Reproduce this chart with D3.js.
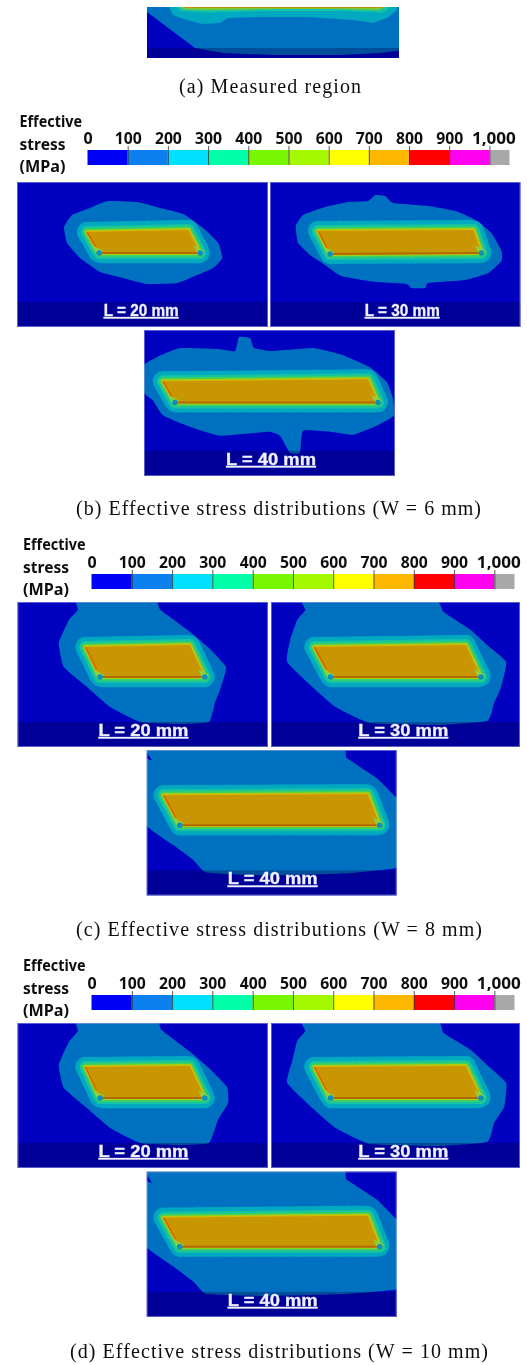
<!DOCTYPE html>
<html><head><meta charset="utf-8">
<script src="https://cdnjs.cloudflare.com/ajax/libs/d3/7.8.5/d3.min.js"></script>
<style>html,body{margin:0;padding:0;background:#fff}svg{display:block}</style></head>
<body><svg id="c" width="527" height="1365"></svg>
<script>
// ---------- legend data ----------
const stressBreaks = [0,100,200,300,400,500,600,700,800,900,1000,1050];
const stressColors = ["#0000f4","#0a80f0","#00e0ff","#00ffa8","#78f800","#a4f800","#ffff00","#ffb800","#ff0000","#ff00f0","#a8a8a8"];
const stressTicks  = [0,100,200,300,400,500,600,700,800,900,1000];
const legendWords  = ["Effective","stress","(MPa)"];
// ---------- contour colours (level bands drawn outward to inward) ----------
const bandColors = ["#00a8c0","#18c4a0","#40d060","#a8d010","#d8b800"];
const bandWidths = [19,12,7.5,4,2];
// ---------- W = 6 mm : 100 MPa contours and yield cores ----------
const w6L20Outer = [[47,45],[55,33],[73,26],[90,19],[120,20],[143,26],[166,32],[186,46],[201,61],[205,76],[196,86],[180,93],[160,101],[130,102],[106,96],[83,90],[63,76],[50,61]];
const w6L20Core  = [[70,50],[171,48],[183,71],[82,71]];
const w6L30Outer = [[26,43],[33,33],[55,25],[78,20],[98,19],[105,13],[115,14],[123,21],[158,24],[185,29],[205,38],[221,51],[231,69],[231,79],[218,91],[195,98],[158,101],[155,106],[141,106],[136,102],[105,100],[71,94],[55,83],[40,73],[28,61],[26,49]];
const w6L30Core  = [[48,49],[203,48],[211,71],[60,72]];
const w6L40Outer = [[0,35],[13,27],[36,18],[76,19],[91,21],[95,7],[106,8],[110,18],[128,21],[169,18],[199,25],[226,37],[243,52],[249,68],[250,85],[233,95],[209,104],[186,101],[159,100],[156,122],[146,122],[136,105],[124,101],[76,105],[43,95],[19,85],[9,70],[0,62]];
const w6L40Core  = [[19,51],[224,49],[234,72],[31,72]];
// ---------- W = 8 mm ----------
const w8L20Outer = [[60,-4],[134,-4],[142,8],[169,28],[189,45],[207,65],[202,85],[196,101],[190,120],[159,122],[122,120],[92,105],[69,85],[46,65],[41,41],[51,18],[60,8]];
const w8L20Core  = [[67.5,45],[171,43],[186,75],[82,75]];
const w8L30Outer = [[34,-4],[159,-4],[171,10],[198,28],[214,43],[233,60],[228,85],[221,101],[214,119],[164,123],[98,121],[64,105],[41,85],[16,60],[19,38],[26,18],[34,8]];
const w8L30Core  = [[43,45],[193,43],[208,75],[59,75]];
const w8L40Outer = [[-4,10],[5,10],[5,-4],[190,-4],[200,8],[230,28],[247,45],[254,53],[254,112],[247,118],[197,123],[117,125],[60,122],[47,110],[27,95],[-4,71]];
const w8L40Core  = [[17,45],[221,44],[233,75],[33,75]];
// ---------- W = 10 mm ----------
const w10L20Outer = [[60,-4],[136,-4],[143,7],[169,27],[189,44],[208,64],[209,80],[199,97],[190,120],[159,122],[122,120],[92,105],[69,85],[46,65],[41,42],[51,19],[60,8]];
const w10L20Core  = [[67.5,44],[171,43],[186,75],[82,75]];
const w10L30Outer = [[34,-4],[161,-4],[171,10],[198,27],[214,42],[233,60],[231,84],[221,100],[214,119],[164,123],[98,121],[64,105],[41,85],[16,60],[21,38],[26,18],[34,8]];
const w10L30Core  = [[43,44],[193,43],[208,75],[59,75]];
const w10L40Outer = [[-4,11],[5,11],[5,-4],[190,-4],[200,8],[230,28],[247,45],[254,53],[254,112],[247,118],[197,122],[117,124],[60,122],[47,110],[27,95],[-4,71]];
const w10L40Core  = [[17,46],[221,44],[233,75],[33,75]];
// ---------- measured region (cropped) ----------
const cropOuter = [[0,5],[48,41],[76,46],[126,48],[193,48],[233,46],[256,43],[256,-4],[0,-4]];
const cropCyan  = [[21,-2],[26,8],[40,13],[55,17],[73,16],[81,11],[110,10],[160,10],[206,13],[226,16],[240,11],[250,3],[250,-2]];
const cropGreen = [[27,-2],[34,4],[60,5.5],[126,4],[193,4],[236,5.5],[246,-2]];
const cropLime  = [[31,-2],[38,2.6],[60,3],[126,2],[193,2],[232,3],[242,-2]];
const cropCore  = [[34,-2],[38,1],[236,1],[240,-2]];
// ---------- captions ----------
const captions = ["(a) Measured region","(b) Effective stress distributions (W = 6 mm)","(c) Effective stress distributions (W = 8 mm)","(d) Effective stress distributions (W = 10 mm)"];
const lengthLabels = ["L = 20 mm","L = 30 mm","L = 40 mm"];

const svg = d3.select("#c");
const defs = svg.append("defs");
const blur = (id,s)=>defs.append("filter").attr("id",id).attr("x","-5%").attr("y","-5%").attr("width","110%").attr("height","110%")
  .append("feGaussianBlur").attr("stdDeviation",s);
blur("soft",0.7); blur("txt",0.35);
let uid=0;

function panel(box, domainW, outer, core, label, labelX, labelLen){
  const x=d3.scaleLinear().domain([0,domainW]).range([box[0],box[1]]);
  const y=d3.scaleLinear().domain([0,145]).range([box[2],box[3]]);
  const line=d3.line().x(d=>x(d[0])).y(d=>y(d[1]));
  const id="p"+(uid++);
  defs.append("clipPath").attr("id",id).append("rect").attr("x",box[0]).attr("y",box[2]).attr("width",box[1]-box[0]).attr("height",box[3]-box[2]);
  const clip=svg.append("g").attr("clip-path",`url(#${id})`);
  const g=clip.append("g").attr("filter","url(#soft)");
  g.append("rect").attr("x",box[0]-5).attr("y",box[2]-5).attr("width",box[1]-box[0]+10).attr("height",box[3]-box[2]+10).attr("fill","#0000c0");
  g.append("path").attr("d",line.curve(d3.curveCardinalClosed.tension(0.6))(outer)).attr("fill","#0070c0");
  const lc=line.curve(d3.curveLinearClosed)(core);
  g.append("path").attr("d",lc).attr("fill","none").attr("stroke","#00a8c0").attr("stroke-width",bandWidths[0]+1.5)
    .attr("stroke-linecap","round").attr("stroke-dasharray","0.1 5.5");
  bandWidths.forEach((w,i)=>g.append("path").attr("d",lc).attr("fill","none").attr("stroke",bandColors[i]).attr("stroke-width",w).attr("stroke-linejoin","round"));
  g.append("path").attr("d",lc).attr("fill","#c89600");
  // edges: left red line, bottom brown line, root markers
  const [tl,tr,br,bl]=core;
  const seg=(a,b)=>line.curve(d3.curveLinear)([a,b]);
  g.append("path").attr("d",seg(tl,[tl[0]+(bl[0]-tl[0])*.75,tl[1]+(bl[1]-tl[1])*.75])).attr("stroke","#e06000").attr("stroke-width",1.6).attr("fill","none");
  g.append("path").attr("d",seg(bl,br)).attr("stroke","#b06800").attr("stroke-width",1.8).attr("fill","none");
  [bl,br].forEach(p=>{
    g.append("path").attr("d",line.curve(d3.curveLinearClosed)([[p[0]-7,p[1]-8],[p[0]+4,p[1]-2],[p[0]+1,p[1]+2],[p[0]-2,p[1]+2]])).attr("fill","#90d040");
    g.append("circle").attr("cx",x(p[0])).attr("cy",y(p[1])).attr("r",2.8).attr("fill","#0890c0");
  });
  // dark band at the foot of the panel
  clip.append("rect").attr("x",box[0]).attr("y",y(120)).attr("width",box[1]-box[0]).attr("height",box[3]-y(120)).attr("fill","#000040").attr("opacity",.3);
  svg.append("rect").attr("x",box[0]+.5).attr("y",box[2]+.5).attr("width",box[1]-box[0]-1).attr("height",box[3]-box[2]-1).attr("fill","none").attr("stroke","#a8a8e8").attr("stroke-width",1).attr("opacity",.55);
  svg.append("text").attr("x",x(labelX)).attr("y",y(134)).attr("text-anchor","middle").attr("filter","url(#txt)")
    .attr("font-family","Liberation Sans").attr("font-weight","bold").attr("font-size",16).attr("fill","#f0f0ff")
    .attr("stroke","#f0f0ff").attr("stroke-width",.3)
    .attr("textLength",labelLen).attr("lengthAdjust","spacingAndGlyphs")
    .attr("text-decoration","underline").text(label);
}

function legend(range, axisY, wordX, wordYs, wordLen){
  const x=d3.scaleLinear().domain([0,1050]).range(range);
  const g=svg.append("g").attr("filter","url(#txt)");
  g.selectAll(".s").data(stressColors).join("rect").attr("x",(d,i)=>x(stressBreaks[i])).attr("width",(d,i)=>x(stressBreaks[i+1])-x(stressBreaks[i]))
    .attr("y",axisY-15).attr("height",15).attr("fill",d=>d);
  const ax=d3.axisTop(x).tickValues(stressTicks).tickSize(19).tickPadding(2).tickFormat(d3.format(","));
  const a=g.append("g").attr("transform",`translate(0,${axisY})`).call(ax);
  a.select(".domain").remove();
  a.selectAll("line").attr("stroke","#333").attr("stroke-width",1).attr("opacity",d=>d===0?0:.8);
  a.selectAll("text").attr("font-family","Noto Sans").attr("font-weight","bold").attr("font-size",16).attr("fill","#111").attr("dy",0)
    .attr("textLength",d=>d===1000?44:(d===0?null:27)).attr("lengthAdjust","spacingAndGlyphs")
    .attr("dx",d=>d===1000?4:0);
  legendWords.forEach((w,i)=>g.append("text").attr("x",wordX).attr("y",wordYs[i]).attr("font-family","Noto Sans").attr("font-weight","bold").attr("font-size",15.5).attr("fill","#111")
    .attr("textLength",wordLen[i]).attr("lengthAdjust","spacingAndGlyphs").text(w));
}

function caption(t,x0,x1,y){
  svg.append("text").attr("x",x0).attr("y",y).attr("font-family","Liberation Serif").attr("font-size",20).attr("fill","#111")
    .attr("textLength",x1-x0).attr("lengthAdjust","spacing").attr("filter","url(#txt)").text(t);
}

// (a) cropped panel
(function(){
  const box=[147,399,7,58];
  const x=d3.scaleLinear().domain([0,252]).range([box[0],box[1]]);
  const y=d3.scaleLinear().domain([0,51]).range([box[2],box[3]]);
  const line=d3.line().x(d=>x(d[0])).y(d=>y(d[1])).curve(d3.curveLinearClosed);
  defs.append("clipPath").attr("id","ca").append("rect").attr("x",box[0]).attr("y",box[2]).attr("width",252).attr("height",51);
  const clip=svg.append("g").attr("clip-path","url(#ca)");
  const g=clip.append("g").attr("filter","url(#soft)");
  g.append("rect").attr("x",box[0]-5).attr("y",box[2]-5).attr("width",262).attr("height",61).attr("fill","#0000c0");
  g.append("path").attr("d",line(cropOuter)).attr("fill","#0070c0");
  g.append("path").attr("d",line(cropCyan)).attr("fill","#00a8c0");
  g.append("path").attr("d",line(cropGreen)).attr("fill","#18c4a0");
  g.append("path").attr("d",line(cropLime)).attr("fill","#80c830");
  g.append("path").attr("d",line(cropCore)).attr("fill","#b89000");
  clip.append("rect").attr("x",box[0]).attr("y",y(41)).attr("width",252).attr("height",10).attr("fill","#000040").attr("opacity",.3);
})();
caption(captions[0],179,361,93);

// (b) W = 6 mm
legend([87.5,509.5],165,19.5,[127,150,172],[62.5,46,46]);
panel([17,268,182,327],250.7,w6L20Outer,w6L20Core,lengthLabels[0],124,75);
panel([270,520.5,182,327],250,w6L30Outer,w6L30Core,lengthLabels[1],132,75);
panel([144,395,330,476],251,w6L40Outer,w6L40Core,lengthLabels[2],127,90);
caption(captions[1],76,481,515);

// (c) W = 8 mm
legend([91.5,514.5],589,23,[550,573,595],[62.5,46,46]);
panel([17.5,268,602,747],248.7,w8L20Outer,w8L20Core,lengthLabels[0],125,90);
panel([271,520,602,747],246.7,w8L30Outer,w8L30Core,lengthLabels[1],131,90);
panel([146.7,396.7,750,895.5],250,w8L40Outer,w8L40Core,lengthLabels[2],126,90);
caption(captions[2],76,482,936);

// (d) W = 10 mm
legend([91.5,514.5],1010,23,[971,994,1016],[62.5,46,46]);
panel([17.5,268,1023,1168],248.7,w10L20Outer,w10L20Core,lengthLabels[0],125,90);
panel([271,520,1023,1168],246.7,w10L30Outer,w10L30Core,lengthLabels[1],131,90);
panel([146.7,396.7,1171.5,1317],250,w10L40Outer,w10L40Core,lengthLabels[2],126,90);
caption(captions[3],70,488,1358);
</script></body></html>
